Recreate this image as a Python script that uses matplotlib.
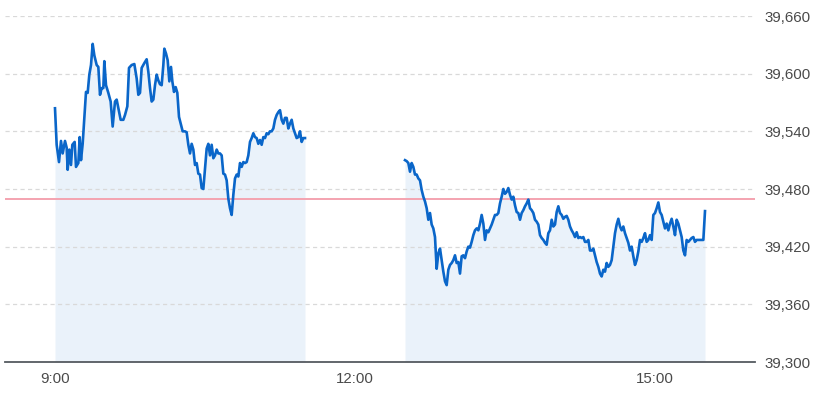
import matplotlib
matplotlib.use("Agg")
import matplotlib.pyplot as plt
from matplotlib.ticker import FuncFormatter

# minutes after 9:00 and index values
am_minutes = [0, 1, 2.4, 3.6, 4.6, 6, 7, 7.6, 8.6, 9.6, 10.4, 11.8, 12.6, 14, 14.8, 15.6, 16.6, 17.6,
              18.6, 19.6, 20.6, 21.6, 22.6, 23.6, 25, 26, 27, 28, 29, 29.6, 30.6, 32, 33.4, 34.6,
              36, 37, 38, 39.4, 41, 42, 43.4, 44.4, 46, 47.6, 49, 50, 51, 52, 53.6, 55, 56, 57,
              58, 59, 60, 61, 62, 63, 64, 65, 65.6, 66.6, 67.6, 68.6, 69.6, 70.4, 71.4, 72.4,
              73.4, 74.4, 75.6, 76.6, 78, 79, 80, 81, 82, 83, 84, 85, 86, 87, 88, 89, 90, 91, 92,
              93, 94, 95, 96, 97, 98, 99, 100, 101, 102, 103, 104, 105, 106, 107, 108, 109, 110,
              111, 112, 113, 114, 115, 116, 117, 118, 119, 120, 121, 122, 123, 124, 125, 126, 127,
              128, 129, 130, 131, 132, 133, 134, 135, 136, 137, 138, 139, 140, 141, 142, 143, 144,
              145, 146, 147, 148, 149, 150]
am_values = [39564, 39526, 39508, 39530, 39517, 39530, 39523, 39500, 39521, 39505, 39526, 39529,
             39503, 39507, 39534, 39510, 39527, 39554, 39581, 39580, 39599, 39609, 39631, 39619,
             39609, 39607, 39578, 39585, 39585, 39613, 39588, 39580, 39571, 39545, 39571, 39573,
             39564, 39552, 39552, 39557, 39566, 39606, 39609, 39610, 39595, 39578, 39580, 39606,
             39611, 39615, 39602, 39585, 39571, 39573, 39588, 39599, 39593, 39589, 39588, 39609,
             39626, 39621, 39614, 39592, 39607, 39592, 39581, 39586, 39580, 39555, 39547, 39540,
             39540, 39539, 39526, 39517, 39527, 39521, 39505, 39507, 39496, 39495, 39481, 39480,
             39501, 39522, 39527, 39515, 39526, 39512, 39515, 39521, 39517, 39517, 39515, 39496,
             39495, 39489, 39470, 39460, 39453, 39474, 39491, 39495, 39493, 39507, 39503, 39508,
             39507, 39508, 39515, 39529, 39533, 39538, 39534, 39533, 39527, 39531, 39526, 39534,
             39533, 39538, 39537, 39540, 39540, 39543, 39552, 39557, 39560, 39562, 39552, 39548,
             39554, 39554, 39543, 39548, 39552, 39543, 39538, 39533, 39534, 39540, 39529, 39533,
             39533]

pm_minutes = list(range(210, 391))
pm_values = [39510, 39509, 39507, 39498, 39507, 39503, 39495, 39495, 39491, 39489, 39479, 39472,
             39467, 39460, 39448, 39455, 39443, 39439, 39430, 39397, 39413, 39418, 39406, 39394,
             39384, 39380, 39396, 39401, 39403, 39406, 39411, 39403, 39404, 39392, 39410, 39411,
             39408, 39415, 39420, 39419, 39425, 39432, 39437, 39439, 39437, 39444, 39453, 39444,
             39427, 39437, 39435, 39439, 39443, 39448, 39453, 39453, 39455, 39465, 39472, 39480,
             39475, 39477, 39481, 39474, 39469, 39472, 39463, 39456, 39455, 39448, 39455, 39458,
             39462, 39465, 39469, 39460, 39458, 39455, 39448, 39446, 39443, 39432, 39429, 39427,
             39424, 39422, 39434, 39437, 39448, 39441, 39443, 39456, 39462, 39455, 39453, 39449,
             39451, 39452, 39448, 39441, 39437, 39434, 39430, 39435, 39429, 39430, 39429, 39430,
             39425, 39425, 39427, 39416, 39416, 39418, 39411, 39404, 39399, 39392, 39389, 39396,
             39394, 39403, 39399, 39401, 39406, 39420, 39434, 39443, 39449, 39441, 39437, 39441,
             39434, 39429, 39424, 39416, 39420, 39410, 39401, 39406, 39415, 39427, 39425, 39429,
             39434, 39425, 39427, 39432, 39427, 39453, 39455, 39460, 39466, 39456, 39453, 39446,
             39439, 39444, 39437, 39444, 39449, 39441, 39432, 39448, 39444, 39437, 39430, 39416,
             39411, 39427, 39425, 39427, 39429, 39430, 39425, 39427, 39427, 39427, 39427, 39427,
             39457]

prev_close = 39470
y_ticks = [39300, 39360, 39420, 39480, 39540, 39600, 39660]
x_ticks = [9, 12, 15]
x_tick_labels = ["9:00", "12:00", "15:00"]

plt.rcParams['font.family'] = ['Liberation Sans', 'DejaVu Sans']
plt.rcParams['lines.scale_dashes'] = False

fig = plt.figure(figsize=(8.19, 3.93), dpi=100)
ax = fig.add_axes([5 / 819, 31 / 393, 750 / 819, 346 / 393])

line_c = '#0a66c9'
fill_c = '#eaf2fa'
ymin, ymax = 39300, 39660

for mins, vals in ((am_minutes, am_values), (pm_minutes, pm_values)):
    hrs = [9 + m / 60 for m in mins]
    ax.fill_between(hrs, vals, ymin, color=fill_c, lw=0, zorder=1)
    ax.plot(hrs, vals, color=line_c, lw=1.9, zorder=4, solid_joinstyle='round')

for yv in y_ticks[1:]:
    ax.axhline(yv, color='#d9d9d9', lw=0.9, ls=(0, (3.0, 2.4)), zorder=2)
ax.axhline(prev_close, color='#f4a3b0', lw=1.4, zorder=3)

ax.set_xlim(8.5, 16.0)
ax.set_ylim(ymin, ymax)
ax.set_xticks(x_ticks)
ax.set_xticklabels(x_tick_labels)
ax.set_yticks(y_ticks)
ax.yaxis.set_major_formatter(FuncFormatter(lambda v, p: f"{int(v):,}"))
ax.yaxis.tick_right()
ax.tick_params(axis='both', length=0, labelsize=10.8, colors='#4a4a4a')
ax.tick_params(axis='y', pad=7)
ax.tick_params(axis='x', pad=7)

for s in ('top', 'left', 'right'):
    ax.spines[s].set_visible(False)
ax.spines['bottom'].set_color('#555a60')
ax.spines['bottom'].set_linewidth(1.3)
ax.spines['bottom'].set_zorder(5)
ax.set_facecolor('white')

fig.savefig('out.png', dpi=100)
